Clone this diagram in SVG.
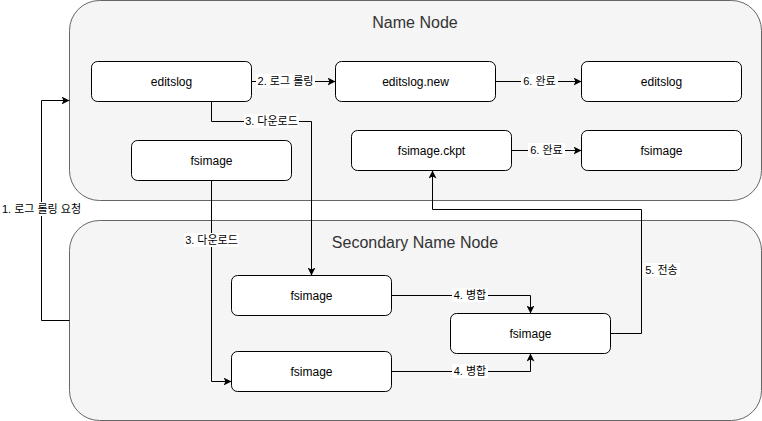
<svg xmlns="http://www.w3.org/2000/svg" width="762" height="421" viewBox="0 0 762 421">
<style>
.container{fill:#f5f5f5;stroke:#666666;stroke-width:1}
.node{fill:#ffffff;stroke:#000000;stroke-width:1}
.title{font-family:"Liberation Sans","Noto Sans CJK KR",sans-serif;font-size:16px;fill:#333333;text-anchor:middle}
.ntext{font-family:"Liberation Sans","Noto Sans CJK KR",sans-serif;font-size:12px;fill:#000000;text-anchor:middle}
.edge{fill:none;stroke:#000000;stroke-width:1}
.lbl{font-family:"Liberation Sans","Noto Sans CJK KR",sans-serif;font-size:11px;fill:#000000;text-anchor:middle}
.lblbg{fill:#ffffff}
</style>
<defs>
<marker id="arr" viewBox="0 0 10 10" refX="10" refY="5" markerWidth="8" markerHeight="8" markerUnits="userSpaceOnUse" orient="auto">
<path d="M0,0 L10,5 L0,10 L2.5,5 Z" fill="#000000"/>
</marker>
</defs>
<rect width="762" height="421" fill="#ffffff"/>
<g id="namenode">
<rect class="container" x="69.5" y="0.5" width="692" height="200" rx="30" ry="30"/>
<text class="title" x="415" y="28">Name Node</text>
</g>
<g id="secondarynamenode">
<rect class="container" x="69.5" y="220.5" width="692" height="200" rx="30" ry="30"/>
<text class="title" x="415" y="248">Secondary Name Node</text>
</g>
<g id="nn-editslog">
<rect class="node" x="91.5" y="61.5" width="160" height="40" rx="6" ry="6"/>
<text class="ntext" x="171.5" y="85.5">editslog</text>
</g>
<g id="nn-editslog-new">
<rect class="node" x="335.5" y="61.5" width="160" height="40" rx="6" ry="6"/>
<text class="ntext" x="415.5" y="85.5">editslog.new</text>
</g>
<g id="nn-editslog-final">
<rect class="node" x="581.5" y="61.5" width="160" height="40" rx="6" ry="6"/>
<text class="ntext" x="661.5" y="85.5">editslog</text>
</g>
<g id="nn-fsimage">
<rect class="node" x="131.5" y="140.5" width="160" height="40" rx="6" ry="6"/>
<text class="ntext" x="211.5" y="164.5">fsimage</text>
</g>
<g id="nn-fsimage-ckpt">
<rect class="node" x="351.5" y="130.5" width="160" height="40" rx="6" ry="6"/>
<text class="ntext" x="431.5" y="154.5">fsimage.ckpt</text>
</g>
<g id="nn-fsimage-final">
<rect class="node" x="581.5" y="130.5" width="160" height="40" rx="6" ry="6"/>
<text class="ntext" x="661.5" y="154.5">fsimage</text>
</g>
<g id="snn-fsimage-1">
<rect class="node" x="231.5" y="275.5" width="160" height="40" rx="6" ry="6"/>
<text class="ntext" x="311.5" y="299.5">fsimage</text>
</g>
<g id="snn-fsimage-2">
<rect class="node" x="231.5" y="351.5" width="160" height="40" rx="6" ry="6"/>
<text class="ntext" x="311.5" y="375.5">fsimage</text>
</g>
<g id="snn-fsimage-merged">
<rect class="node" x="450.5" y="313.5" width="160" height="40" rx="6" ry="6"/>
<text class="ntext" x="530.5" y="337.5">fsimage</text>
</g>
<g id="connectors">
<path class="edge" d="M69.5,320.5 H41.5 V100.5 H69.5" marker-end="url(#arr)"/>
<rect class="lblbg" x="1" y="202" width="81" height="14"/>
<text class="lbl" x="41.5" y="213">1. 로그 롤링 요청</text>

<path class="edge" d="M251.5,81.5 H335.5" marker-end="url(#arr)"/>
<rect class="lblbg" x="256" y="74" width="59" height="14"/>
<text class="lbl" x="285.5" y="85">2. 로그 롤링</text>

<path class="edge" d="M211.5,101.5 V121.5 H311.5 V275.5" marker-end="url(#arr)"/>
<rect class="lblbg" x="244" y="114" width="55" height="14"/>
<text class="lbl" x="271.5" y="125">3. 다운로드</text>

<path class="edge" d="M211.5,180.5 V381.5 H231.5" marker-end="url(#arr)"/>
<rect class="lblbg" x="184" y="233" width="55" height="14"/>
<text class="lbl" x="211.5" y="244">3. 다운로드</text>

<path class="edge" d="M391.5,295.5 H530.5 V313.5" marker-end="url(#arr)"/>
<rect class="lblbg" x="452" y="288" width="36" height="14"/>
<text class="lbl" x="470" y="299">4. 병합</text>

<path class="edge" d="M391.5,371.5 H530.5 V353.5" marker-end="url(#arr)"/>
<rect class="lblbg" x="452" y="364" width="36" height="14"/>
<text class="lbl" x="470" y="375">4. 병합</text>

<path class="edge" d="M610.5,333.5 H641.5 V209.5 H432.5 V170.5" marker-end="url(#arr)"/>
<rect class="lblbg" x="643" y="263" width="37" height="14"/>
<text class="lbl" x="661.5" y="274">5. 전송</text>

<path class="edge" d="M495.5,81.5 H581.5" marker-end="url(#arr)"/>
<rect class="lblbg" x="521" y="74" width="37" height="14"/>
<text class="lbl" x="539.5" y="85">6. 완료</text>

<path class="edge" d="M511.5,150.5 H581.5" marker-end="url(#arr)"/>
<rect class="lblbg" x="528" y="143" width="37" height="14"/>
<text class="lbl" x="546.5" y="154">6. 완료</text>
</g>
</svg>
